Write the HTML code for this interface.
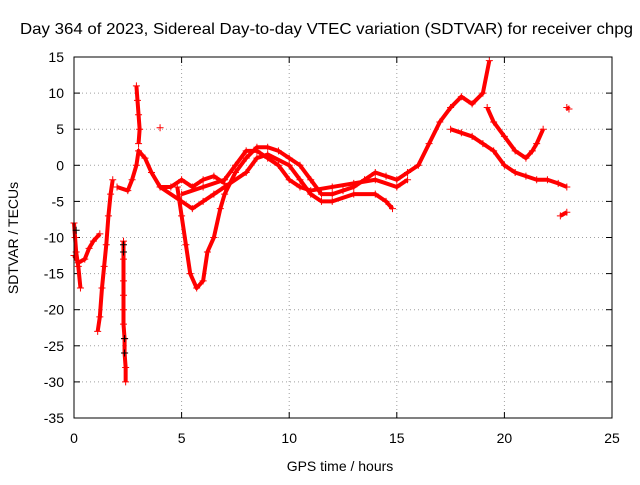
<!DOCTYPE html>
<html><head><meta charset="utf-8"><style>
body{margin:0;background:#fff}
svg text{font-family:"Liberation Sans",sans-serif;font-size:14px;fill:#000}
</style></head><body>
<svg id="c" width="640" height="480">
<rect width="640" height="480" fill="#fff"/>
<text x="20" y="34" textLength="613" lengthAdjust="spacingAndGlyphs" style="font-size:16px">Day 364 of 2023, Sidereal Day-to-day VTEC variation (SDTVAR) for receiver chpg</text>
<text x="340" y="471" text-anchor="middle">GPS time / hours</text>
<text x="18" y="238" text-anchor="middle" transform="rotate(-90 18 238)">SDTVAR / TECUs</text>
<g id="grid"></g><g id="marks"></g>
<rect x="74" y="57" width="538" height="361" fill="none" stroke="#000"/>
</svg>
<script>
const xTicks=[0,5,10,15,20,25];
const yTicks=[15,10,5,0,-5,-10,-15,-20,-25,-30,-35];
const trackA=[[0,-8],[0.05,-10],[0.1,-12],[0.2,-14],[0.3,-17]];
const trackA2=[[0,-12.5],[0.2,-13.5],[0.5,-13],[0.7,-11.5],[0.9,-10.5],[1.2,-9.5]];
const trackB=[[1.1,-23],[1.2,-21],[1.3,-17],[1.4,-14],[1.5,-11],[1.6,-7],[1.7,-4],[1.8,-2]];
const trackC=[[2.3,-10.5],[2.3,-13],[2.3,-16],[2.3,-18],[2.3,-20],[2.3,-22],[2.35,-24],[2.35,-26],[2.4,-28],[2.4,-30]];
const trackE=[[2.9,11],[2.95,9],[3.0,7],[3.05,5],[3.0,3]];
const trackD=[[2.0,-3],[2.5,-3.5],[2.7,-2],[2.9,0],[3.0,2],[3.3,1],[3.6,-1],[4,-3],[4.5,-3],[5,-2],[5.5,-3],[6,-2],[6.5,-1.5],[7,-2.5]];
const trackDip=[[4.8,-3],[5.0,-7],[5.2,-11],[5.4,-15],[5.7,-17],[6.0,-16],[6.2,-12],[6.5,-10],[6.8,-6],[7,-4],[7.5,-1],[8,1],[8.5,2.5],[9,2.5],[9.5,2],[10,1],[10.5,0],[11,-2],[11.5,-4],[12,-4],[12.5,-3.5],[13,-3],[13.5,-2],[14,-1],[14.5,-1.5],[15,-2],[15.5,-1],[16,0],[16.5,3],[17,6],[17.5,8],[18,9.5],[18.5,8.5],[19,10],[19.3,14.5]];
const trackF=[[4,-3],[5,-5],[5.5,-6],[6,-5],[6.5,-4],[7,-3],[8,-1],[8.5,1],[9,1.5],[10,0],[10.5,-2],[11,-4],[11.5,-5],[12,-5],[13,-4],[14,-4],[14.5,-5],[14.8,-6]];
const trackG=[[5,-4],[6,-3],[7,-2],[7.5,0],[8,2],[8.5,2],[9,1],[9.5,0],[10,-2],[10.5,-3],[11,-3.5],[12,-3],[13,-2.5],[14,-2],[15,-3],[15.5,-2]];
const trackH=[[17.5,5],[18,4.5],[18.5,4],[19,3],[19.5,2],[20,0],[20.5,-1],[21,-1.5],[21.5,-2],[22,-2],[22.5,-2.5],[22.9,-3]];
const trackI=[[19.2,8],[19.5,6],[20,4],[20.5,2],[21,1],[21.3,2],[21.5,3],[21.8,5]];
const trackJ=[[22.6,-7],[22.9,-6.5]];
const trackK=[[22.9,8],[23,7.8]];
const trackL=[[4,5.2]];
const blackPts=[[2.3,-11],[2.3,-12],[2.35,-24],[2.35,-26],[0.1,-9]];
const series=[trackA,trackA2,trackB,trackC,trackE,trackD,trackDip,trackF,trackG,trackH,trackI,trackJ,trackK,trackL];
const X=v=>74+(v-0)*538/25, Y=v=>57+(15-v)*361/50;
const ns="http://www.w3.org/2000/svg";
const g=document.getElementById('grid'), m=document.getElementById('marks');
function mk(t,a,p){const e=document.createElementNS(ns,t);for(const k in a)e.setAttribute(k,a[k]);p.appendChild(e);return e;}
xTicks.forEach(t=>{
 if(t>0&&t<25){const l=mk('line',{x1:X(t),x2:X(t),y1:57,y2:418,stroke:'#a0a0a0','stroke-dasharray':'1,3'},g);
 
 }
 mk('line',{x1:X(t),x2:X(t),y1:418,y2:412,stroke:'#000'},g);
 mk('line',{x1:X(t),x2:X(t),y1:57,y2:63,stroke:'#000'},g);
 const tx=mk('text',{x:X(t),y:443,'text-anchor':'middle'},g);tx.textContent=t;
 
 
});
yTicks.forEach(t=>{
 if(t<15&&t>-35){const l=mk('line',{x1:74,x2:612,y1:Y(t),y2:Y(t),stroke:'#a0a0a0','stroke-dasharray':'1,3'},g);
 
 }
 mk('line',{x1:74,x2:80,y1:Y(t),y2:Y(t),stroke:'#000'},g);
 mk('line',{x1:606,x2:612,y1:Y(t),y2:Y(t),stroke:'#000'},g);
 const tx=mk('text',{x:64,y:Y(t)+5,'text-anchor':'end'},g);tx.textContent=t;
 
 
});
function plus(x,y,c){mk('path',{d:`M${x-3.5},${y}h7M${x},${y-3.5}v7`,stroke:c,'stroke-width':1},m);}
series.forEach(s=>{
 if(s.length>1){const pl=mk('polyline',{points:s.map(p=>X(p[0])+','+Y(p[1])).join(' '),fill:'none',stroke:'#f00','stroke-width':4,'stroke-linejoin':'round'},m);
 
 }
 s.forEach(p=>plus(X(p[0]),Y(p[1]),'#f00'));
});
blackPts.forEach(p=>plus(X(p[0]),Y(p[1]),'#000'));
</script>
</body></html>
